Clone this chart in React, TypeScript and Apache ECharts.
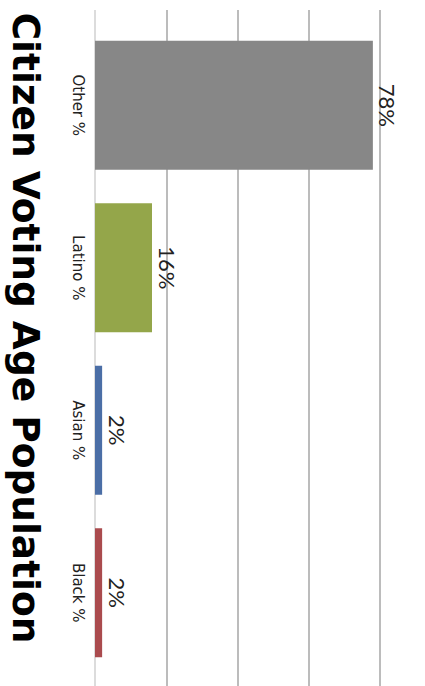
import React, { useEffect, useRef } from "react";
import * as echarts from "echarts";

const categories = ["Other %", "Latino %", "Asian %", "Black %"];
const values = [78, 16, 2, 2];
const barColors = ["#878787", "#94a64a", "#4b6ea6", "#aa4b4e"];
const titleText = "Citizen Voting Age Population";

export default function App() {
  const ref = useRef<HTMLDivElement>(null);
  useEffect(() => {
    if (!ref.current) return;
    const chart = echarts.init(ref.current, null, { renderer: "svg" });
    chart.setOption({
      animation: false,
      backgroundColor: "#ffffff",
      graphic: [
        {
          type: "text",
          x: 26,
          y: 328,
          rotation: -Math.PI / 2,
          style: {
            text: titleText,
            font: "bold 37.5px 'DejaVu Sans'",
            fill: "#000",
            align: "center",
            verticalAlign: "middle",
          },
        },
      ],
      grid: [
        { left: 95, right: 45, top: 10, bottom: 0 },
        { left: 95, right: 45, top: 24, bottom: 12 },
      ],
      xAxis: [
        {
          type: "value",
          gridIndex: 0,
          min: 0,
          max: 80,
          interval: 20,
          axisLabel: { show: false },
          axisTick: { show: false },
          axisLine: { show: false },
          splitLine: {
            show: true,
            lineStyle: { color: ["#dcdcdc", "#bcbcbc", "#bcbcbc", "#bcbcbc", "#bcbcbc"], width: 2 },
          },
        },
        {
          type: "value",
          gridIndex: 1,
          min: 0,
          max: 80,
          interval: 20,
          show: false,
        },
      ],
      yAxis: [
        {
          type: "category",
          gridIndex: 0,
          data: categories,
          show: false,
        },
        {
          type: "category",
          gridIndex: 1,
          data: categories,
          inverse: true,
          axisLine: { show: false },
          axisTick: { show: false },
          splitLine: { show: false },
          axisLabel: {
            rotate: -90,
            margin: 10,
            align: "center",
            verticalAlign: "top",
            fontFamily: "DejaVu Sans",
            fontSize: 15,
            color: "#222",
          },
        },
      ],
      series: [
        {
          type: "bar",
          xAxisIndex: 1,
          yAxisIndex: 1,
          barWidth: 129,
          data: values.map((v, i) => ({ value: v, itemStyle: { color: barColors[i] } })),
          label: {
            show: true,
            position: "right",
            distance: 4,
            rotate: -90,
            align: "center",
            verticalAlign: "bottom",
            formatter: "{c}%",
            fontFamily: "Lato",
            fontSize: 22,
            color: "#222",
          },
        },
      ],
    });
    return () => chart.dispose();
  }, []);
  return (
    <div
      ref={ref}
      style={{ position: "fixed", left: 0, top: 0, width: 425, height: 686 }}
    />
  );
}
